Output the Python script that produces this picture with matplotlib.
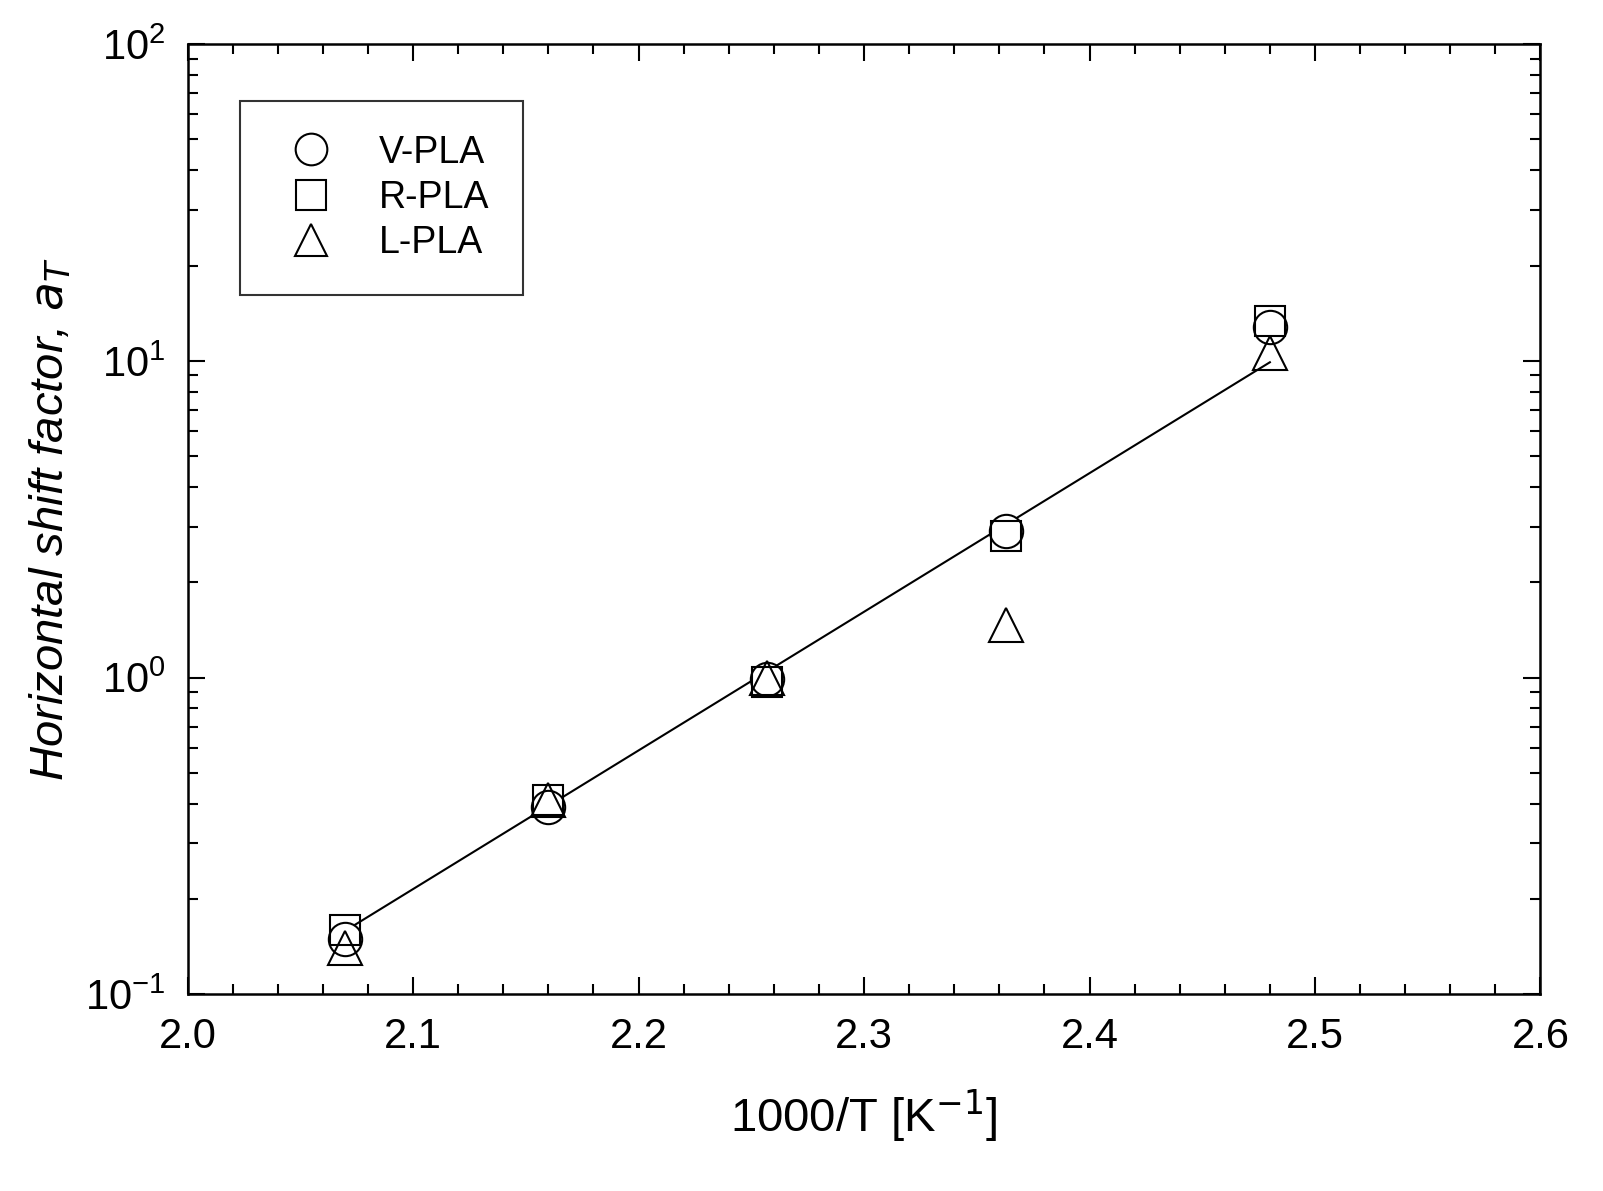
import matplotlib
matplotlib.use("Agg")
import matplotlib.pyplot as plt
from matplotlib.ticker import MultipleLocator, LogLocator, NullFormatter

plt.rcParams['font.family'] = ['Liberation Sans', 'DejaVu Sans']

x = [2.07, 2.16, 2.257, 2.363, 2.48]
v_pla = [0.15, 0.39, 0.99, 2.9, 12.8]
r_pla = [0.16, 0.41, 0.97, 2.8, 13.4]
l_pla = [0.14, 0.41, 1.0, 1.47, 10.6]
fit_x = [2.07, 2.48]
fit_y = [0.159, 9.9]

fig = plt.figure(figsize=(16.03, 11.91), dpi=100)
ax = fig.add_axes([0.117, 0.165, 0.844, 0.798])
ax.plot(fit_x, fit_y, color='black', lw=1.5)
ms = 24
ax.plot(x, v_pla, 'o', mfc='white', mec='black', ms=ms, mew=1.5, ls='none', label='V-PLA')
ax.plot(x, r_pla, 's', mfc='none', mec='black', ms=ms-2, mew=1.5, ls='none', label='R-PLA')
ax.plot(x, l_pla, '^', mfc='none', mec='black', ms=ms, mew=1.5, ls='none', label='L-PLA')

ax.set_yscale('log')
ax.set_xlim(2.0, 2.6)
ax.set_ylim(0.1, 100)
ax.xaxis.set_major_locator(MultipleLocator(0.1))
ax.xaxis.set_minor_locator(MultipleLocator(0.02))
ax.yaxis.set_major_locator(LogLocator(base=10, numticks=10))
ax.yaxis.set_minor_locator(LogLocator(base=10, subs=range(2, 10), numticks=20))
ax.yaxis.set_minor_formatter(NullFormatter())
ax.xaxis.set_major_formatter(matplotlib.ticker.FormatStrFormatter('%.1f'))
ax.tick_params(which='both', direction='in', top=True, right=True, labelsize=30, width=1.5)
ax.tick_params(which='major', length=12, pad=16)
ax.tick_params(which='minor', length=7)
for s in ax.spines.values():
    s.set_linewidth(1.8)

ax.set_xlabel('1000/T [K$^{-1}$]', fontsize=34, labelpad=22)
ax.set_ylabel('Horizontal shift factor, $a_T$', fontsize=34, style='italic', labelpad=8)

leg = ax.legend(loc='upper left', bbox_to_anchor=(0.025, 0.96), fontsize=27, frameon=True,
                fancybox=False, edgecolor='black', handletextpad=0.8, borderpad=0.9,
                labelspacing=0.25, markerscale=0.95)
leg.get_frame().set_linewidth(1.5)

fig.savefig('out.png', dpi=100)
